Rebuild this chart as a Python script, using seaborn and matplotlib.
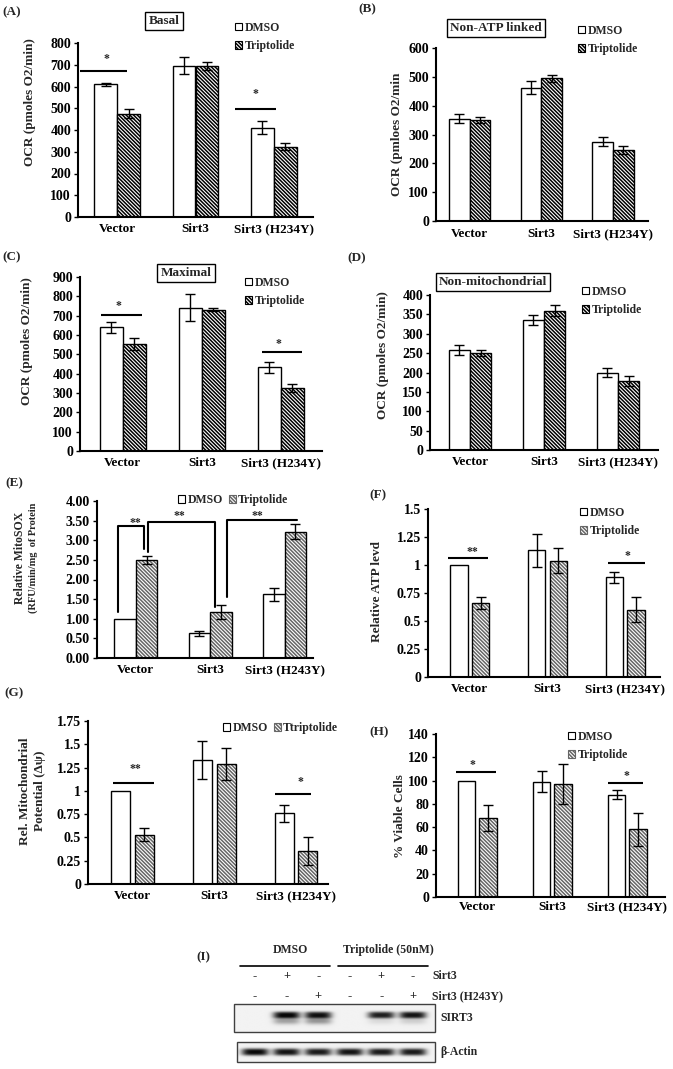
import numpy as np
import pandas as pd
import matplotlib
matplotlib.use('Agg')
import matplotlib.pyplot as plt
from matplotlib.patches import Patch, Rectangle
from matplotlib.ticker import FuncFormatter
import seaborn as sns

sns.set_style('white')
plt.rcParams['font.family'] = ['Liberation Serif', 'DejaVu Serif']
plt.rcParams['font.weight'] = 'bold'
plt.rcParams['hatch.linewidth'] = 1.1

groups = ['Vector', 'Sirt3', 'Sirt3 (H234Y)']
groups_e = ['Vector', 'Sirt3', 'Sirt3 (H243Y)']
treatments = ['DMSO', 'Triptolide']

# (A) basal OCR
basal_dmso = [610, 695, 410]
basal_dmso_err = [8, 39, 30]
basal_trip = [475, 695, 322]
basal_trip_err = [22, 18, 16]

# (B) non-ATP linked OCR
nonatp_dmso = [355, 462, 275]
nonatp_dmso_err = [15, 23, 16]
nonatp_trip = [350, 495, 245]
nonatp_trip_err = [10, 12, 14]

# (C) maximal OCR
maximal_dmso = [640, 740, 432]
maximal_dmso_err = [28, 70, 28]
maximal_trip = [555, 730, 325]
maximal_trip_err = [32, 8, 22]

# (D) non-mitochondrial OCR
nonmito_dmso = [258, 335, 200]
nonmito_dmso_err = [12, 13, 12]
nonmito_trip = [250, 360, 178]
nonmito_trip_err = [7, 14, 12]

# (E) relative MitoSOX
mitosox_dmso = [1.00, 0.63, 1.62]
mitosox_dmso_err = [0, 0.07, 0.17]
mitosox_trip = [2.49, 1.17, 3.22]
mitosox_trip_err = [0.1, 0.18, 0.2]

# (F) relative ATP
atp_dmso = [1.0, 1.13, 0.89]
atp_dmso_err = [0, 0.15, 0.05]
atp_trip = [0.66, 1.04, 0.60]
atp_trip_err = [0.05, 0.11, 0.11]

# (G) mitochondrial potential
mmp_dmso = [1.0, 1.33, 0.76]
mmp_dmso_err = [0, 0.2, 0.09]
mmp_trip = [0.53, 1.29, 0.35]
mmp_trip_err = [0.07, 0.17, 0.15]

# (H) viability
viable_dmso = [100, 99, 88]
viable_dmso_err = [0, 9, 4]
viable_trip = [68, 97, 58]
viable_trip_err = [11, 17, 14]

# (I) western blot
sirt3_signs = ['-', '+', '-', '-', '+', '-']
h243y_signs = ['-', '-', '+', '-', '-', '+']
sirt3_band = [0.0, 1.0, 0.95, 0.0, 0.9, 0.95]
sirt3_lower = [0.0, 0.35, 0.4, 0.0, 0.1, 0.15]
actin_band = [1.0, 0.95, 0.92, 0.95, 0.92, 0.92]

HATCH = '\\' * 9
W, H = 673, 1069
fig = plt.figure(figsize=(W / 100, H / 100), dpi=100)


def box(l, t, r, b):
    return fig.add_axes([l / W, 1 - b / H, (r - l) / W, (b - t) / H])


def ftext(x, y, s, **kw):
    fig.text(x / W, 1 - y / H, s, **kw)


def panel(rect, cats, dmso, dmso_err, trip, trip_err, ylim, yticks, xlim,
          width=0.58, gap=0.0, hatch_col='black', fmt='{:g}', pad=4.5):
    ax = box(*rect)
    df = pd.DataFrame({'group': cats * 2,
                       'treatment': [treatments[0]] * 3 + [treatments[1]] * 3,
                       'value': dmso + trip})
    sns.barplot(data=df, x='group', y='value', hue='treatment', order=cats,
                hue_order=treatments, palette=['white', 'white'],
                edgecolor='black', linewidth=1, width=width, gap=gap,
                errorbar=None, legend=False, ax=ax)
    for b in ax.containers[1]:
        b.set_hatch(HATCH)
        if hatch_col != 'black':
            b.set_edgecolor(hatch_col)
            b.set_linewidth(0)
            ax.add_patch(Rectangle(b.get_xy(), b.get_width(), b.get_height(),
                                   fill=False, edgecolor='black', lw=1,
                                   zorder=b.get_zorder() + 0.1))
    for cont, errs in zip(ax.containers, [dmso_err, trip_err]):
        for b, e in zip(cont, errs):
            if e > 0:
                ax.errorbar(b.get_x() + b.get_width() / 2, b.get_height(),
                            yerr=e, color='black', lw=1, capsize=3.5,
                            capthick=1, zorder=5)
    ax.set_xlim(*xlim)
    ax.set_ylim(*ylim)
    ax.set_yticks(yticks)
    ax.yaxis.set_major_formatter(FuncFormatter(lambda v, p: fmt.format(v)))
    ax.set_xlabel('')
    ax.set_ylabel('')
    for s in ['top', 'right']:
        ax.spines[s].set_visible(False)
    for s in ['left', 'bottom']:
        ax.spines[s].set_color('black')
        ax.spines[s].set_linewidth(1.5)
    ax.tick_params(axis='y', left=True, length=3, width=1, direction='out',
                   labelsize=10, pad=2, colors='black')
    ax.tick_params(axis='x', length=0, labelsize=9.5, pad=pad, colors='black')
    return ax


def legend(ax, x, y, labels, hatch_col='black', ncol=1, spacing=0.55):
    handles = [Patch(facecolor='white', edgecolor='black', lw=0.8),
               Patch(facecolor='white', edgecolor=hatch_col, hatch=HATCH, lw=0.8)]
    ax.legend(handles, labels, loc='center left', bbox_to_anchor=(x / W, 1 - y / H),
              bbox_transform=fig.transFigure, frameon=False, ncol=ncol,
              handlelength=0.6, handleheight=0.6, handletextpad=0.2,
              labelspacing=spacing, columnspacing=0.5, borderpad=0,
              borderaxespad=0, prop={'weight': 'bold', 'size': 8.5})


def sig(ax, x0, x1, y, star, sx, sy):
    ax.plot([x0, x1], [y, y], color='black', lw=1.5, solid_capstyle='butt')
    ax.text(sx, sy, star, ha='center', va='center', fontsize=8.5)


def title_box(x, y, s):
    ftext(x, y, s, ha='center', va='center', fontsize=9.5,
          bbox=dict(boxstyle='square,pad=0.25', fc='white', ec='black', lw=1))


# (A)
ax = panel((78, 43, 313, 217), groups, basal_dmso, basal_dmso_err, basal_trip,
           basal_trip_err, (0, 800), range(0, 801, 100), (-0.5, 2.5))
sig(ax, -0.47, 0.13, 671, '*', -0.14, 725)
sig(ax, 1.51, 2.03, 497, '*', 1.76, 565)
legend(ax, 235, 37, treatments)
title_box(164, 21, 'Basal')
ftext(30, 102, 'OCR (pmoles O2/min)', rotation=90, ha='center', va='center', fontsize=9.5)
ftext(12, 12, '(A)', ha='center', va='center', fontsize=9.5)

# (B)
ax = panel((436, 48, 648, 221), groups, nonatp_dmso, nonatp_dmso_err, nonatp_trip,
           nonatp_trip_err, (0, 600), range(0, 601, 100), (-0.47, 2.49), pad=5)
legend(ax, 578, 40, treatments)
title_box(496, 28, 'Non-ATP linked')
ftext(397, 134, 'OCR (pmloes O2/min', rotation=90, ha='center', va='center', fontsize=9.5)
ftext(367, 9, '(B)', ha='center', va='center', fontsize=9.5)

# (C)
ax = panel((80, 277, 322, 451), groups, maximal_dmso, maximal_dmso_err, maximal_trip,
           maximal_trip_err, (0, 900), range(0, 901, 100), (-0.54, 2.52))
sig(ax, -0.27, 0.24, 703, '*', -0.06, 750)
sig(ax, 1.76, 2.27, 512, '*', 1.97, 555)
legend(ax, 245, 292, treatments)
title_box(186, 273, 'Maximal')
ftext(27, 341, 'OCR (pmoles O2/min)', rotation=90, ha='center', va='center', fontsize=9.5)
ftext(12, 257, '(C)', ha='center', va='center', fontsize=9.5)

# (D)
ax = panel((430, 295, 658, 450), groups, nonmito_dmso, nonmito_dmso_err, nonmito_trip,
           nonmito_trip_err, (0, 400), range(0, 401, 50), (-0.54, 2.54))
legend(ax, 582, 301, treatments)
title_box(493, 282, 'Non-mitochondrial')
ftext(383, 355, 'OCR (pmoles O2/min)', rotation=90, ha='center', va='center', fontsize=9.5)
ftext(357, 258, '(D)', ha='center', va='center', fontsize=9.5)

# (E)
ax = panel((97, 501, 313, 658), groups_e, mitosox_dmso, mitosox_dmso_err, mitosox_trip,
           mitosox_trip_err, (0, 4), np.arange(0, 4.01, 0.5), (-0.52, 2.38),
           hatch_col='0.4', fmt='{:.2f}')
ax.plot([-0.24, -0.24, 0.11, 0.11], [1.17, 3.36, 3.36, 2.78], color='black', lw=1.5)
ax.plot([0.17, 0.17, 1.07, 1.07], [2.7, 3.46, 3.46, 1.3], color='black', lw=1.5)
ax.plot([1.22, 1.22, 2.17], [1.55, 3.52, 3.52], color='black', lw=1.5)
ax.text(0.0, 3.45, '**', ha='center', va='center', fontsize=8.5)
ax.text(0.59, 3.62, '**', ha='center', va='center', fontsize=8.5)
ax.text(1.64, 3.62, '**', ha='center', va='center', fontsize=8.5)
legend(ax, 178, 500, treatments, hatch_col='0.4', ncol=2)
ftext(20, 558, 'Relative MitoSOX', rotation=90, ha='center', va='center', fontsize=8.5)
ftext(33, 558, '(RFU/min/mg  of Protein', rotation=90, ha='center', va='center', fontsize=7.5)
ftext(14, 483, '(E)', ha='center', va='center', fontsize=9.5)

# (F)
ax = panel((428, 509, 660, 677), groups, atp_dmso, atp_dmso_err, atp_trip,
           atp_trip_err, (0, 1.5), np.arange(0, 1.51, 0.25), (-0.54, 2.45),
           width=0.56, gap=0.2, hatch_col='0.4')
sig(ax, -0.28, 0.23, 1.06, '**', 0.03, 1.12)
sig(ax, 1.78, 2.26, 1.02, '*', 2.03, 1.08)
legend(ax, 580, 522, treatments, hatch_col='0.4')
ftext(377, 591, 'Relative ATP levd', rotation=90, ha='center', va='center', fontsize=9.5)
ftext(378, 495, '(F)', ha='center', va='center', fontsize=9.5)

# (G)
ax = panel((88, 721, 328, 884), groups, mmp_dmso, mmp_dmso_err, mmp_trip,
           mmp_trip_err, (0, 1.75), np.arange(0, 1.76, 0.25), (-0.54, 2.39),
           width=0.58, gap=0.2, hatch_col='0.4')
sig(ax, -0.23, 0.26, 1.08, '**', 0.04, 1.23)
sig(ax, 1.74, 2.18, 0.97, '*', 2.05, 1.1)
legend(ax, 223, 728, ['DMSO', 'Ttriptolide'], hatch_col='0.4', ncol=2)
ftext(25, 791, 'Rel. Mitochondrial', rotation=90, ha='center', va='center', fontsize=9.5)
ftext(40, 791, 'Potential (\u0394\u03c8)', rotation=90, ha='center', va='center', fontsize=9.5)
ftext(14, 693, '(G)', ha='center', va='center', fontsize=9.5)

# (H)
ax = panel((436, 734, 665, 897), groups, viable_dmso, viable_dmso_err, viable_trip,
           viable_trip_err, (0, 140), range(0, 141, 20), (-0.55, 2.5),
           width=0.57, gap=0.19, hatch_col='0.4', pad=3)
sig(ax, -0.28, 0.25, 107, '*', -0.07, 113)
sig(ax, 1.74, 2.21, 98, '*', 1.98, 104)
legend(ax, 568, 746, treatments, hatch_col='0.4')
ftext(400, 816, '% Viable Cells', rotation=90, ha='center', va='center', fontsize=9.5)
ftext(379, 732, '(H)', ha='center', va='center', fontsize=9.5)

# (I) western blot
axi = box(150, 925, 560, 1069)
lane_x = [255 + 31.6 * i for i in range(6)]


def blot(ax, x0, x1, y0, y1, bands, yc, thick, extra=None, yc2=None):
    xs = np.linspace(x0, x1, 500)
    ys = np.linspace(y0, y1, 80)
    X, Y = np.meshgrid(xs, ys)
    img = np.zeros_like(X)
    for i, (lx, a) in enumerate(zip(lane_x, bands)):
        shape_x = np.exp(-(np.abs(X - lx) / 13.5) ** 4)
        img += a * shape_x * np.exp(-(np.abs(Y - yc) / thick) ** 3)
        if extra is not None:
            img += extra[i] * shape_x * np.exp(-((Y - yc2) / thick) ** 2)
    gray = 0.95 - 0.92 * np.clip(img, 0, 1)
    ax.imshow(gray, cmap='gray', vmin=0, vmax=1, extent=(x0, x1, y1, y0),
              aspect='auto', interpolation='bilinear')
    ax.add_patch(Rectangle((x0, y0), x1 - x0, y1 - y0, fill=False, edgecolor='0.25', lw=1))


blot(axi, 234, 435, 1004, 1032, sirt3_band, 1015, 3.4, sirt3_lower, 1021)
blot(axi, 237, 435, 1042, 1062, actin_band, 1052, 3.6)
axi.set_xlim(150, 560)
axi.set_ylim(1069, 925)
axi.axis('off')
for lx, s1, s2 in zip(lane_x, sirt3_signs, h243y_signs):
    axi.text(lx, 976, s1, ha='center', va='center', fontsize=9)
    axi.text(lx, 996, s2, ha='center', va='center', fontsize=9)
axi.plot([240, 330], [966, 966], color='black', lw=1.2)
axi.plot([338, 428], [966, 966], color='black', lw=1.2)
axi.text(290, 950, 'DMSO', ha='center', va='center', fontsize=8.5)
axi.text(388, 950, 'Triptolide (50nM)', ha='center', va='center', fontsize=8.5)
axi.text(432, 976, 'Sirt3', ha='left', va='center', fontsize=8.5)
axi.text(432, 996, 'Sirt3 (H243Y)', ha='left', va='center', fontsize=8.5)
axi.text(440, 1018, 'SIRT3', ha='left', va='center', fontsize=8.5)
axi.text(440, 1052, '\u03b2-Actin', ha='left', va='center', fontsize=8.5)
axi.text(203, 957, '(I)', ha='center', va='center', fontsize=9.5)

fig.savefig('out.png', dpi=100)
